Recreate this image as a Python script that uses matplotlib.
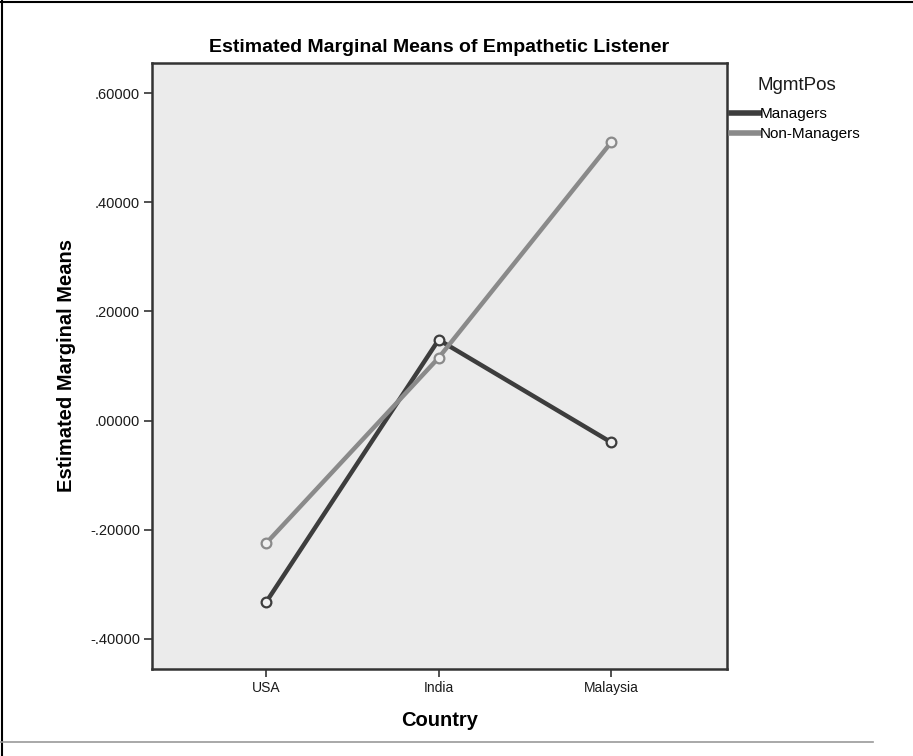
import matplotlib.pyplot as plt
from matplotlib.lines import Line2D
from matplotlib.ticker import FuncFormatter, FixedLocator

countries = ["USA", "India", "Malaysia"]
managers = [-0.333, 0.148, -0.040]
non_managers = [-0.225, 0.115, 0.510]
series_names = ["Managers", "Non-Managers"]
y_ticks = [-0.4, -0.2, 0.0, 0.2, 0.4, 0.6]

plt.rcParams["font.family"] = ["Liberation Sans", "DejaVu Sans"]


def spss_fmt(v, _pos=None):
    s = f"{v:.5f}"
    if s.startswith("-0"):
        return "-" + s[2:]
    if s.startswith("0"):
        return s[1:]
    return s


fig = plt.figure(figsize=(9.13, 7.56), dpi=100)
ax = fig.add_axes([0.1665, 0.1151, 0.6298, 0.8016])
ax.set_facecolor("#ebebeb")

x = list(range(len(countries)))
colors = ["#3d3d3d", "#8a8a8a"]
for vals, name, col in zip([managers, non_managers], series_names, colors):
    ax.plot(x, vals, color=col, lw=3.2, solid_capstyle="round", label=name,
            marker="o", markersize=7, markerfacecolor="#f0f0f0",
            markeredgecolor=col, markeredgewidth=1.6, zorder=3)

ax.set_xlim(-0.66, 2.67)
ax.set_ylim(-0.455, 0.655)
ax.set_xticks(x)
ax.set_xticklabels(countries)
ax.yaxis.set_major_locator(FixedLocator(y_ticks))
ax.yaxis.set_major_formatter(FuncFormatter(spss_fmt))
ax.tick_params(axis="both", labelsize=10.5, length=5.5, width=1.2, color="#333333",
               labelcolor="#1a1a1a", pad=3)
ax.tick_params(axis="x", labelsize=10)
for sp in ax.spines.values():
    sp.set_color("#333333")
    sp.set_linewidth(1.8)

ax.set_xlabel("Country", fontsize=14.5, fontweight="bold", labelpad=12)
ax.set_ylabel("Estimated Marginal Means", fontsize=14.5, fontweight="bold", labelpad=10)
ax.set_title("Estimated Marginal Means of Empathetic Listener", fontsize=14,
             fontweight="bold", pad=8)

# legend: title placed separately, entries below
fig.text(757 / 913, 1 - 85 / 756, "MgmtPos", fontsize=13.5, va="center", ha="left",
         color="#1a1a1a")
handles = [Line2D([], [], color=c, lw=4) for c in colors]
leg = ax.legend(handles, series_names, loc="upper left",
                bbox_to_anchor=(731 / 913, 1 - 107 / 756), bbox_transform=fig.transFigure,
                frameon=False, fontsize=11, handlelength=1.8, handletextpad=0.1,
                labelspacing=0.42, borderaxespad=0.0, borderpad=0.0)

# screenshot frame pieces
fig.add_artist(Line2D([0.002, 0.002], [0, 1], transform=fig.transFigure, color="black", lw=1.5))
fig.add_artist(Line2D([0, 1], [0.998, 0.998], transform=fig.transFigure, color="black", lw=1.5))
fig.add_artist(Line2D([0, 873 / 913], [1 - 742 / 756] * 2, transform=fig.transFigure,
                      color="#999999", lw=1.2))

fig.savefig("out.png", dpi=100)
